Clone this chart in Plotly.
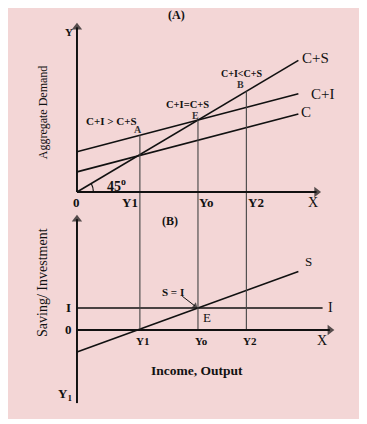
import plotly.graph_objects as go

# ---------------- data (Keynesian income determination) ----------------
income = [0, 183]                 # income range drawn for the schedules
autonomous_c = 28                 # autonomous consumption
mpc = 0.44                        # marginal propensity to consume
investment = 28                   # autonomous investment I
income_levels = [52, 100, 140]    # Y1, Yo, Y2
income_labels = ["Y1", "Yo", "Y2"]

consumption = [autonomous_c + mpc * y for y in income]                 # C
agg_demand = [autonomous_c + investment + mpc * y for y in income]     # C+I
agg_supply = list(income)                                               # C+S (45 deg line)
saving = [-autonomous_c + (1 - mpc) * y for y in income]               # S
invest_line = [investment, investment]                                  # I

# ---------------- layout constants ----------------
W, H = 359, 416                   # page body has an 8px margin
X_RANGE = [-57.0, 239.7]
Y_TOP = [-27.8, 255.9]
Y_BOT = [-119.6, 150.1]
SPLIT = 1 - 204 / H
FONT = "Liberation Serif"
INK = "#111111"
GRID = "#444444"

fig = go.Figure()

def line(x, y, yaxis="y", width=1.6, color=INK):
    fig.add_trace(go.Scatter(x=x, y=y, mode="lines", yaxis=yaxis, xaxis="x",
                             line=dict(color=color, width=width),
                             hoverinfo="skip", showlegend=False))

def arrow_line(x, y, yaxis="y", width=2.0, head=9):
    fig.add_trace(go.Scatter(x=x, y=y, mode="lines+markers", yaxis=yaxis, xaxis="x",
                             line=dict(color=INK, width=width),
                             marker=dict(symbol="triangle-up", angleref="previous",
                                         size=[0] * (len(x) - 1) + [head], color=INK,
                                         line=dict(width=0)),
                             hoverinfo="skip", showlegend=False))

# top panel schedules
line(income, agg_supply)
line(income, agg_demand)
line(income, consumption)

# bottom panel schedules
line(income, saving, "y2")
line([income[0], 203], invest_line, "y2")

# vertical guides through both panels
for y in income_levels:
    top = max(autonomous_c + investment + mpc * y, y)
    line([y, y], [top, Y_TOP[0]], "y", 1.1, GRID)
    line([y, y], [Y_BOT[1], 0], "y2", 1.1, GRID)

# axes
arrow_line([0, 0], [0, 229], "y")
arrow_line([0, 198], [0, 0], "y")
arrow_line([0, 0], [-93, 141], "y2")
arrow_line([0, 209], [0, 0], "y2")
# S = I pointer
arrow_line([87, 97.5], [43, 30.5], "y2", 1.0, 6)

ann = []

def txt(x, y, t, size=12, yref="y", bold=False, **kw):
    if bold:
        t = "<b>" + t + "</b>"
    d = dict(x=x, y=y, xref="x", yref=yref, text=t, showarrow=False,
             font=dict(family=FONT, size=size, color=kw.pop("color", INK)))
    d.update(kw)
    ann.append(d)

# top panel text
txt(82.6, 246, "(A)", 12, bold=True)
txt(-6.6, 222.5, "Y", 11, bold=True)
txt(-28, 111, "Aggregate Demand", 12, textangle=-90)
txt(income[1], agg_supply[1], "C+S", 15, xanchor="left", xshift=2, yshift=2)
txt(income[1], agg_demand[1], "C+I", 15, xanchor="left", xshift=11)
txt(income[1] - 3, consumption[1], "C", 15, xanchor="left", xshift=4, yshift=2)
txt(28.5, 98.7, "C+I &gt; C+S", 11, bold=True)
txt(50.4, 87.6, "A", 10, bold=True, color="#333333")
txt(91.7, 122, "C+I=C+S", 10.5, bold=True)
txt(98, 106.5, "E", 10, bold=True, color="#333333")
txt(136, 165.5, "C+I&lt;C+S", 10, bold=True)
txt(135.5, 149, "B", 10, bold=True, color="#333333")
txt(33, 10, "45<sup>o</sup>", 14, bold=True)
txt(0, -14, "0", 13, bold=True)
for y, lab, dx in zip(income_levels, income_labels, [-8, 7, 8]):
    txt(y, -15, lab, 13, bold=True, xshift=dx * 1.21)
txt(195, -15, "X", 14)

# bottom panel text
B = "y2"
txt(76.9, 138.7, "(B)", 12, B, bold=True)
txt(-29, 61, "Saving/ Investment", 14, B, textangle=-90)
txt(191, 86.5, "S", 13, B)
txt(-6.6, investment, "I", 13, B, bold=True)
txt(-6.6, 0, "0", 13, B, bold=True)
txt(207, investment, "I", 14, B, xanchor="left", xshift=-1)
txt(79, 48, "S = I", 11, B, bold=True)
txt(107.4, 16.5, "E", 13, B)
for y, lab, dx in zip(income_levels, income_labels, [2.5, 3.3, 3]):
    txt(y + dx, -14, lab, 11, B, bold=True)
txt(202.5, -14, "X", 14, B)
txt(99, -51, "Income, Output", 13.5, B, bold=True)
txt(-10, -82.7, "Y<sub>1</sub>", 13, B, bold=True)

shapes = [
    dict(type="rect", xref="paper", yref="paper", x0=0, x1=352 / W,
         y0=1 - 411 / H, y1=1, fillcolor="#f3d6d6",
         line=dict(width=0), layer="below"),
    dict(type="path", xref="x", yref="y",
         path="M 13.6,0 Q 13.6,6.3 11.8,11.8",
         line=dict(color=INK, width=1.2)),
]

hidden = dict(visible=False, showgrid=False, zeroline=False, fixedrange=True)
fig.update_layout(
    width=W, height=H,
    margin=dict(l=0, r=0, t=0, b=0),
    paper_bgcolor="white", plot_bgcolor="rgba(0,0,0,0)",
    xaxis=dict(domain=[0, 1], range=X_RANGE, anchor="y", **hidden),
    yaxis=dict(domain=[SPLIT, 1], range=Y_TOP, anchor="x", **hidden),
    yaxis2=dict(domain=[0, SPLIT], range=Y_BOT, anchor="x", **hidden),
    annotations=ann, shapes=shapes, showlegend=False,
)

fig.write_html("out.html")
